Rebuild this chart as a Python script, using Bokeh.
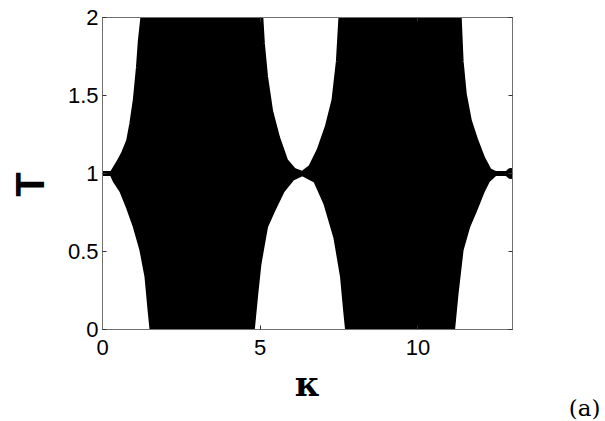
import numpy as np
from bokeh.plotting import figure
from bokeh.models import Range1d, LinearAxis, FixedTicker, Title
from bokeh.embed import file_html
from bokeh.resources import INLINE

# Outer edges of the filled (black) region of T versus kappa
kappa_upper = [0.0, 0.30, 0.51, 0.67, 0.83, 0.93, 1.04, 1.14, 1.20, 1.28,
               5.02, 5.07, 5.17, 5.33, 5.55, 5.81, 6.07, 6.34,
               6.60, 6.87, 7.13, 7.34, 7.48, 7.56,
               11.31, 11.37, 11.47, 11.63, 11.84, 12.05, 12.26, 12.45, 12.90]
T_upper = [1.0, 1.0, 1.07, 1.13, 1.21, 1.32, 1.47, 1.68, 1.85, 2.0,
           2.0, 1.83, 1.62, 1.40, 1.23, 1.08, 1.02, 1.0,
           1.04, 1.15, 1.30, 1.47, 1.72, 2.0,
           2.0, 1.72, 1.51, 1.34, 1.21, 1.10, 1.02, 1.0, 1.0]

kappa_lower = [0.0, 0.30, 0.40, 0.61, 0.83, 1.04, 1.25, 1.41, 1.51, 1.57,
               4.75, 4.86, 4.96, 5.17, 5.39, 5.70, 6.02, 6.34,
               6.76, 7.08, 7.40, 7.61, 7.71, 7.77,
               11.10, 11.21, 11.37, 11.58, 11.79, 12.05, 12.21, 12.45, 12.90]
T_lower = [1.0, 1.0, 0.955, 0.89, 0.78, 0.66, 0.51, 0.34, 0.12, 0.0,
           0.0, 0.23, 0.42, 0.66, 0.76, 0.89, 0.97, 1.0,
           0.955, 0.81, 0.59, 0.34, 0.12, 0.0,
           0.0, 0.23, 0.51, 0.66, 0.76, 0.89, 0.955, 1.0, 1.0]

end_kappa = [12.95]
end_T = [1.0]

x_ticks = [0, 5, 10]
y_ticks = [0, 0.5, 1, 1.5, 2]
y_tick_labels = {0: "0", 0.5: "0.5", 1: "1", 1.5: "1.5", 2: "2"}

p = figure(width=605, height=421, x_range=Range1d(0, 13), y_range=Range1d(0, 2),
           output_backend="svg", toolbar_location=None,
           min_border_left=102, min_border_right=93, min_border_top=17, min_border_bottom=92)
p.grid.visible = False
p.outline_line_color = "#707070"
p.outline_line_width = 1
p.background_fill_color = "white"
p.border_fill_color = "white"

# region polygon
px = list(kappa_upper) + list(kappa_lower[::-1])
py = list(T_upper) + list(T_lower[::-1])
p.patch(px, py, fill_color="black", line_color="black", line_width=5, line_join="round")
p.scatter(end_kappa, end_T, size=10, color="black")

p.add_layout(LinearAxis(), "right")
p.add_layout(LinearAxis(), "above")
for ax in p.below + p.above:
    ax.ticker = FixedTicker(ticks=x_ticks)
for ax in p.left + p.right:
    ax.ticker = FixedTicker(ticks=y_ticks)
for ax in p.below + p.left + p.above + p.right:
    ax.axis_line_color = "#707070"
    ax.major_tick_line_color = "#333333"
    ax.major_tick_in = 4
    ax.major_tick_out = 0
    ax.minor_tick_line_color = None
    ax.major_label_text_font = "Liberation Sans"
    ax.major_label_text_font_size = "22px"
    ax.major_label_text_color = "black"
for ax in p.above + p.right:
    ax.major_label_text_font_size = "0px"
    ax.major_label_text_alpha = 0
    ax.major_label_standoff = 0
for ax in p.left:
    ax.major_label_overrides = y_tick_labels
    ax.major_label_standoff = 4
    ax.axis_label = "T\u00a0\u00a0"
    ax.axis_label_text_font = "Liberation Sans"
    ax.axis_label_text_font_style = "bold"
    ax.axis_label_text_font_size = "40px"
    ax.axis_label_text_color = "black"
    ax.axis_label_standoff = 13
for ax in p.below:
    ax.major_label_standoff = 10
    ax.axis_label = "κ"
    ax.axis_label_text_font = "DejaVu Serif"
    ax.axis_label_text_font_style = "bold"
    ax.axis_label_text_font_size = "34px"
    ax.axis_label_text_color = "black"
    ax.axis_label_standoff = 6

tag = Title(text="(a)", align="right", offset=-88, standoff=-29,
            text_font="DejaVu Serif", text_font_size="23px",
            text_font_style="normal", text_color="black")
p.add_layout(tag, "below")

open("out.html", "w").write(file_html(p, INLINE))
